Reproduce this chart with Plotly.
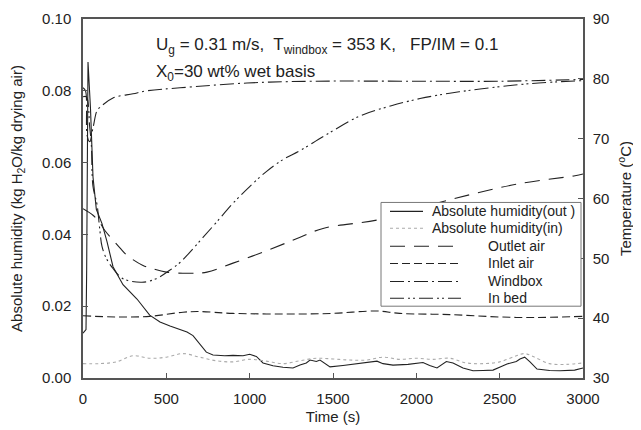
import plotly.graph_objects as go

# ---------------- data ----------------
# Absolute humidity (outlet), kg H2O/kg drying air
t_hout = [0, 10, 18, 22, 26, 30, 45, 60, 80, 114, 144, 180, 240, 324, 400, 462, 522, 580,
          624, 660, 700, 740, 780, 850, 900, 960, 1000, 1040, 1080, 1140, 1200, 1260, 1302,
          1340, 1362, 1400, 1422, 1482, 1560, 1650, 1700, 1764, 1800, 1860, 1950, 2000,
          2040, 2080, 2124, 2180, 2220, 2280, 2340, 2400, 2460, 2510, 2544, 2600, 2622,
          2650, 2682, 2724, 2800, 2862, 2950, 3000]
h_out = [0.0125, 0.013, 0.0135, 0.03, 0.065, 0.088, 0.075, 0.056, 0.047, 0.043, 0.038,
         0.031, 0.026, 0.022, 0.0175, 0.0156, 0.0145, 0.0135, 0.0128, 0.0118, 0.0095,
         0.0072, 0.0064, 0.0062, 0.0063, 0.0062, 0.0066, 0.006, 0.0042, 0.0034, 0.003,
         0.0028, 0.0036, 0.0042, 0.005, 0.0046, 0.005, 0.0031, 0.0035, 0.004, 0.0043,
         0.0047, 0.004, 0.0036, 0.0038, 0.0041, 0.0043, 0.0035, 0.0028, 0.0046, 0.0042,
         0.0028, 0.002, 0.0021, 0.0022, 0.0032, 0.0039, 0.0046, 0.0053, 0.0058, 0.0045,
         0.0025, 0.0021, 0.002, 0.0022, 0.0028]

# Absolute humidity (inlet)
t_hin = [0, 100, 200, 300, 400, 500, 600, 700, 800, 900, 1000, 1100, 1200, 1300, 1400,
         1500, 1600, 1700, 1800, 1900, 2000, 2100, 2200, 2300, 2400, 2500, 2600, 2650,
         2700, 2800, 2900, 3000]
h_in = [0.004, 0.004, 0.0045, 0.0062, 0.0055, 0.0058, 0.0068, 0.0058, 0.0048, 0.0045,
        0.0052, 0.0047, 0.004, 0.0048, 0.0055, 0.0053, 0.005, 0.005, 0.0058, 0.0052,
        0.0055, 0.0052, 0.0055, 0.0042, 0.004, 0.0045, 0.0062, 0.0068, 0.006, 0.004,
        0.0038, 0.0042]

# Temperatures, deg C
t_out = [0, 60, 100, 130, 220, 264, 360, 414, 500, 642, 744, 900, 1104, 1284, 1440,
         1782, 2202, 2622, 2952, 3000]
T_out = [58.3, 57.2, 56.0, 54.7, 51.8, 50.5, 48.8, 48.3, 47.7, 47.5, 47.7, 49.2, 51.3,
         53.3, 55.0, 56.5, 59.8, 62.5, 63.8, 64.1]

t_inlet = [0, 200, 400, 600, 700, 900, 1300, 1500, 1764, 1900, 2200, 2500, 2700, 3000]
T_inlet = [40.4, 40.2, 40.3, 41.0, 41.1, 40.8, 40.7, 40.8, 41.2, 40.8, 40.6, 40.2,
           40.1, 40.3]

t_wb = [0, 15, 25, 40, 60, 84, 100, 180, 300, 384, 582, 984, 1380, 2000, 2500, 3000]
T_wb = [78.5, 78.0, 70.5, 69.5, 71.8, 74.7, 75.2, 76.8, 77.5, 78.0, 78.5, 79.3, 79.6,
        79.6, 79.6, 79.9]

t_bed = [0, 20, 40, 50, 60, 84, 100, 114, 140, 180, 240, 354, 440, 520, 582, 650, 720,
         800, 900, 1000, 1100, 1200, 1302, 1450, 1662, 1850, 2022, 2200, 2382, 2682, 3000]
T_bed = [77.0, 77.0, 72.0, 69.0, 62.0, 59.0, 55.0, 52.0, 50.0, 48.3, 46.6, 46.0, 46.6,
         48.0, 49.3, 51.3, 53.5, 56.0, 59.2, 62.0, 64.5, 66.5, 68.0, 70.5, 73.8, 75.5,
         76.7, 77.6, 78.3, 79.2, 79.7]

series_names = ["Absolute humidity(out )", "Absolute humidity(in)", "Outlet air",
                "Inlet air", "Windbox", "In bed"]

# ---------------- styles ----------------
FONT = "Liberation Sans, Arial, sans-serif"
LC = "#222222"
styles = [
    dict(color=LC, width=1.1, dash="solid"),
    dict(color="#aaaaaa", width=1.1, dash="dot"),
    dict(color=LC, width=1.1, dash="15px,9px"),
    dict(color=LC, width=1.1, dash="8px,4px"),
    dict(color=LC, width=1.1, dash="14px,4px,2px,4px"),
    dict(color=LC, width=1.1, dash="14px,4px,2px,3px,2px,4px"),
]

fig = go.Figure()
fig.add_trace(go.Scatter(x=t_hout, y=h_out, mode="lines", name=series_names[0],
                         line=styles[0]))
fig.add_trace(go.Scatter(x=t_hin, y=h_in, mode="lines", name=series_names[1],
                         line=dict(**styles[1], shape="spline")))
fig.add_trace(go.Scatter(x=t_out, y=T_out, mode="lines", name=series_names[2], yaxis="y2",
                         line=dict(**styles[2], shape="spline")))
fig.add_trace(go.Scatter(x=t_inlet, y=T_inlet, mode="lines", name=series_names[3],
                         yaxis="y2", line=dict(**styles[3], shape="spline")))
fig.add_trace(go.Scatter(x=t_wb, y=T_wb, mode="lines", name=series_names[4], yaxis="y2",
                         line=dict(**styles[4], shape="spline")))
fig.add_trace(go.Scatter(x=t_bed, y=T_bed, mode="lines", name=series_names[5], yaxis="y2",
                         line=dict(**styles[5], shape="spline")))

# ---------------- legend box (drawn in paper coordinates) ----------------
row_y = [0.464, 0.417, 0.367, 0.319, 0.269, 0.222]
shapes = [dict(type="rect", xref="paper", yref="paper", x0=0.596, x1=0.996,
               y0=0.200, y1=0.489, line=dict(color="#777777", width=1),
               fillcolor="white", layer="above")]
annos = []
for i, (nm, st, ry) in enumerate(zip(series_names, styles, row_y)):
    if i < 2:
        sx0, sx1, tx = 0.614, 0.680, 0.694
    else:
        sx0, sx1, tx = 0.614, 0.756, 0.806
    shapes.append(dict(type="line", xref="paper", yref="paper", x0=sx0, x1=sx1,
                       y0=ry, y1=ry, line=st, layer="above"))
    annos.append(dict(x=tx, y=ry, xref="paper", yref="paper", xanchor="left",
                      yanchor="middle", showarrow=False, text=nm,
                      font=dict(family=FONT, size=14, color="#222")))

annos += [
    dict(x=0.142, y=0.925, xref="paper", yref="paper", xanchor="left",
         yanchor="middle", showarrow=False,
         text="U<sub>g</sub> = 0.31 m/s,  T<sub>windbox</sub> = 353 K,   FP/IM = 0.1",
         font=dict(family=FONT, size=17, color="#222")),
    dict(x=0.142, y=0.850, xref="paper", yref="paper", xanchor="left",
         yanchor="middle", showarrow=False,
         text="X<sub>0</sub>=30 wt% wet basis",
         font=dict(family=FONT, size=17, color="#222")),
]

axis_common = dict(showline=True, linecolor="#555555", linewidth=1.5, ticks="inside",
                   ticklen=5, tickcolor="#555555", showgrid=False, zeroline=False,
                   automargin=False,
                   tickfont=dict(family=FONT, size=15, color="#222"))

fig.update_layout(
    width=641, height=430,
    margin=dict(l=75, r=66, t=11, b=60),
    paper_bgcolor="white", plot_bgcolor="white",
    font=dict(family=FONT, color="#222"),
    showlegend=False,
    xaxis=dict(range=[0, 3000], dtick=500, mirror=True, ticklabelstandoff=6,
               title=dict(text="Time (s)", font=dict(family=FONT, size=15), standoff=6),
               **axis_common),
    yaxis=dict(range=[0, 0.1], dtick=0.02, tickformat=".2f", ticklabelstandoff=7,
               title=dict(text="Absolute humidity (kg H<sub>2</sub>O/kg drying air)",
                          font=dict(family=FONT, size=15), standoff=24),
               **axis_common),
    yaxis2=dict(range=[30, 90], dtick=10, overlaying="y", side="right",
                ticklabelstandoff=5,
                title=dict(text="Temperature (<sup>o</sup>C)",
                           font=dict(family=FONT, size=15), standoff=12),
                **axis_common),
    shapes=shapes,
    annotations=annos,
)

fig.write_html("out.html")
